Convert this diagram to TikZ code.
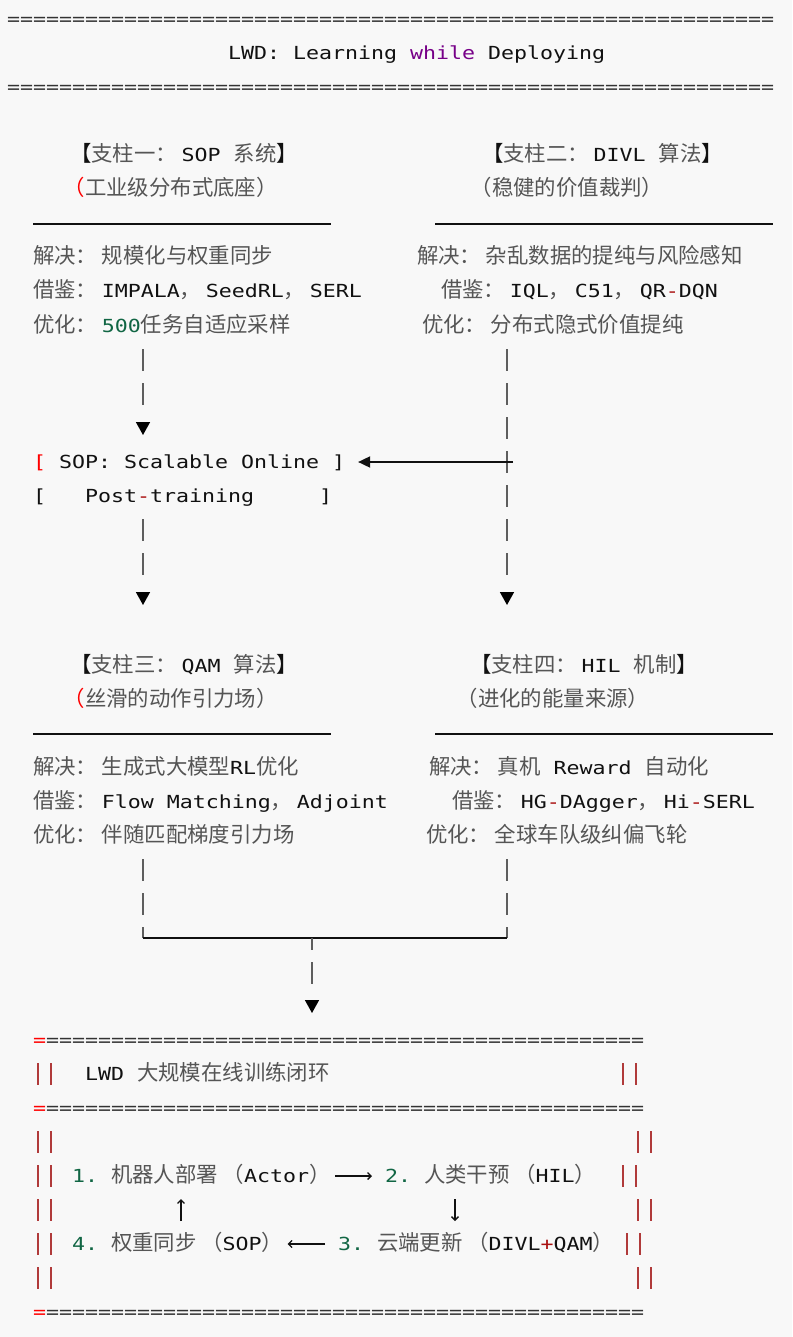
\documentclass[tikz,border=0pt]{standalone}
\usepackage{fontspec}
\setmonofont{DejaVu Sans Mono}[FakeStretch=1.2]
\newfontfamily\cjk{Noto Sans CJK SC}
\usetikzlibrary{positioning}
\usetikzlibrary{arrows.meta}
\definecolor{bg}{HTML}{F8F8F8}
\definecolor{ink}{HTML}{111111}
\definecolor{hanzi}{HTML}{555555}
\definecolor{rule}{HTML}{333333}
\definecolor{num}{HTML}{116644}
\definecolor{kw}{HTML}{770088}
\definecolor{err}{HTML}{FF0000}
\definecolor{opr}{HTML}{AA1111}
\definecolor{barc}{HTML}{5E5E5E}
\definecolor{framec}{HTML}{B03A3A}
\def\zh#1{{\fontsize{21.4pt}{21.4pt}\cjk\color{hanzi}#1}}
\def\nm#1{{\color{num}#1}}
\def\kw#1{{\color{kw}#1}}
\def\er#1{{\color{err}#1}}
\def\opr#1{{\color{opr}#1}}
\def\cln{\zh{\makebox[26pt][l]{：}}}
\def\cma{\zh{\makebox[26pt][l]{，}}}
\def\lpar{\zh{\makebox[26pt][r]{（}}}
\def\lparr{\zh{\makebox[26pt][r]{\color{err}（}}}
\def\rpar{\zh{\makebox[26pt][l]{）}}}
\def\lbk{\zh{\color{ink}【}}
\def\rbk{\zh{\color{ink}】}}
\newcommand\repchar[2]{\foreach\ii in {1,...,#1}{#2}}

\begin{document}
\begin{tikzpicture}[x=1pt,y=-1pt,font=\fontsize{18pt}{18pt}\ttfamily,
	txt/.style={anchor=base west,inner sep=0pt,outer sep=0pt,text height=16pt,text depth=4pt,text=ink},
	uline/.style={draw=ink,line width=2pt},
	hline/.style={draw=ink,line width=1.8pt},
	bar/.style={draw=barc,line width=1.6pt,dash pattern=on 22pt off 12pt},
	bars2/.style={dash pattern=on 22pt off 12pt on 22pt off 40pt},
	bars7/.style={dash pattern=on 22pt off 12pt on 22pt off 12pt on 22pt off 12pt on 22pt off 12pt on 22pt off 12pt on 22pt off 12pt on 22pt off 40pt},
	tip/.style={-{Triangle[length=13pt,width=14pt,color=black]}},
	framebar/.style={draw=framec,line width=1.2pt},
	loopar/.style={draw=ink,line width=1.3pt,-{Straight Barb[length=3.5pt,width=7pt]}}]
	\useasboundingbox (0,0) rectangle (792,1337);
	\fill[bg] (0,0) rectangle (792,1337);

	% title banner
	\node[txt] (bannertop) at (7,26) {\textcolor{rule}{\repchar{59}{=}}};
	\node[txt] (banner) at (228,60) {LWD: Learning \kw{while} Deploying};
	\node[txt] (bannerbot) at (7,94) {\textcolor{rule}{\repchar{59}{=}}};

	% pillar one and two
	\node[txt] (p1head) at (70,162) {\lbk\zh{支柱一}\cln SOP \zh{系统}\rbk};
	\node[txt] (p1sub) at (59,196) {\lparr\zh{工业级分布式底座}\rpar};
	\draw[uline] (33,224) -- (331,224);
	\node[txt] (p1a) at (33,264) {\zh{解决}\cln\zh{规模化与权重同步}};
	\node[txt] (p1b) at (33,298) {\zh{借鉴}\cln IMPALA\cma SeedRL\cma SERL};
	\node[txt] (p1c) at (33,332) {\zh{优化}\cln\nm{500}\zh{任务自适应采样}};

	\node[txt] (p2head) at (482,162) {\lbk\zh{支柱二}\cln DIVL \zh{算法}\rbk};
	\node[txt] (p2sub) at (466,196) {\lpar\zh{稳健的价值裁判}\rpar};
	\draw[uline] (435,224) -- (773,224);
	\node[txt] (p2a) at (417,264) {\zh{解决}\cln\zh{杂乱数据的提纯与风险感知}};
	\node[txt] (p2b) at (441,298) {\zh{借鉴}\cln IQL\cma C51\cma QR\opr{-}DQN};
	\node[txt] (p2c) at (422,332) {\zh{优化}\cln\zh{分布式隐式价值提纯}};

	% SOP
	\node[txt] (sop) at (33,468) {\er{[} SOP: Scalable Online ]};
	\node[txt] (sop2) at (33,502) {[\ \ \ Post\opr{-}training\ \ \ \ \ ]};

	% pillar three and four
	\node[txt] (p3head) at (70,672) {\lbk\zh{支柱三}\cln QAM \zh{算法}\rbk};
	\node[txt] (p3sub) at (59,706) {\lparr\zh{丝滑的动作引力场}\rpar};
	\draw[uline] (33,734) -- (331,734);
	\node[txt] (p3a) at (33,774) {\zh{解决}\cln\zh{生成式大模型}RL\zh{优化}};
	\node[txt] (p3b) at (33,808) {\zh{借鉴}\cln Flow Matching\cma Adjoint};
	\node[txt] (p3c) at (33,842) {\zh{优化}\cln\zh{伴随匹配梯度引力场}};

	\node[txt] (p4head) at (470,672) {\lbk\zh{支柱四}\cln HIL \zh{机制}\rbk};
	\node[txt] (p4sub) at (452,706) {\lpar\zh{进化的能量来源}\rpar};
	\draw[uline] (435,734) -- (773,734);
	\node[txt] (p4a) at (429,774) {\zh{解决}\cln\zh{真机} Reward \zh{自动化}};
	\node[txt] (p4b) at (452,808) {\zh{借鉴}\cln HG\opr{-}DAgger\cma Hi\opr{-}SERL};
	\node[txt] (p4c) at (426,842) {\zh{优化}\cln\zh{全球车队级纠偏飞轮}};

	% connector ends
	\coordinate (l1) at (143,349); \coordinate (l2) at (143,435);
	\coordinate (l3) at (143,519); \coordinate (l4) at (143,605);
	\coordinate (r1) at (507,349); \coordinate (r2) at (507,605);
	\coordinate (rx) at (513,462);
	\coordinate (l5) at (143,859); \coordinate (lc) at (143,938);
	\coordinate (r5) at (507,859); \coordinate (rc) at (507,938);
	\coordinate (mc) at (312,938); \coordinate (m2) at (312,1013);

	\draw[bar,bars2,tip] (l1) -- (l2);
	\draw[bar,bars2,tip] (l3) -- (l4);
	\draw[bar,bars7,tip] (r1) -- (r2);
	\draw[hline,-{Triangle[length=12pt,width=11pt]},shorten >=13pt] (rx) -- (sop.east);
	\draw[bar] (l5) -- (lc);
	\draw[bar] (r5) -- (rc);
	\draw[hline] (lc) -- (rc);
	\draw[bar,tip,dash pattern=on 12pt off 12pt on 22pt off 40pt] (mc) -- (m2);

	% closed loop box
	\node[txt] (boxtop) at (33,1046) {\er{=}\textcolor{rule}{\repchar{46}{=}}};
	\node[txt] (boxname) at (85,1080) {LWD \zh{大规模在线训练闭环}};
	\node[txt] (boxmid) at (33,1114) {\er{=}\textcolor{rule}{\repchar{46}{=}}};
	\node[txt] (s1) at (72,1182) {\nm{1.} \zh{机器人部署}\lpar Actor\rpar};
	\node[txt] (s2) at (385,1182) {\nm{2.} \zh{人类干预}\lpar HIL\rpar};
	\node[txt] (s4) at (72,1250) {\nm{4.} \zh{权重同步}\lpar SOP\rpar};
	\node[txt] (s3) at (338,1250) {\nm{3.} \zh{云端更新}\lpar DIVL\opr{+}QAM\rpar};
	\node[txt] (boxbot) at (33,1318) {\er{=}\textcolor{rule}{\repchar{46}{=}}};
	\foreach \y/\xr in {1074/623,1142/638,1176/623,1210/638,1244/627,1278/638} {
		\draw[framebar] (38,\y-11) -- (38,\y+11);
		\draw[framebar] (51,\y-11) -- (51,\y+11);
		\draw[framebar] (\xr,\y-11) -- (\xr,\y+11);
		\draw[framebar] (\xr+13,\y-11) -- (\xr+13,\y+11);
	}
	\coordinate (upx) at (181,0); \coordinate (dnx) at (455,0);
	\draw[loopar,shorten >=13pt] (s1.east) -- (s2.west);
	\draw[loopar,shorten >=13pt,shorten <=13pt] (s2.south -| dnx) -- (s3.north -| dnx);
	\draw[loopar,shorten <=13pt] (s3.west) -- (s4.east);
	\draw[loopar,shorten >=13pt,shorten <=13pt] (s4.north -| upx) -- (s1.south -| upx);
\end{tikzpicture}
\end{document}
